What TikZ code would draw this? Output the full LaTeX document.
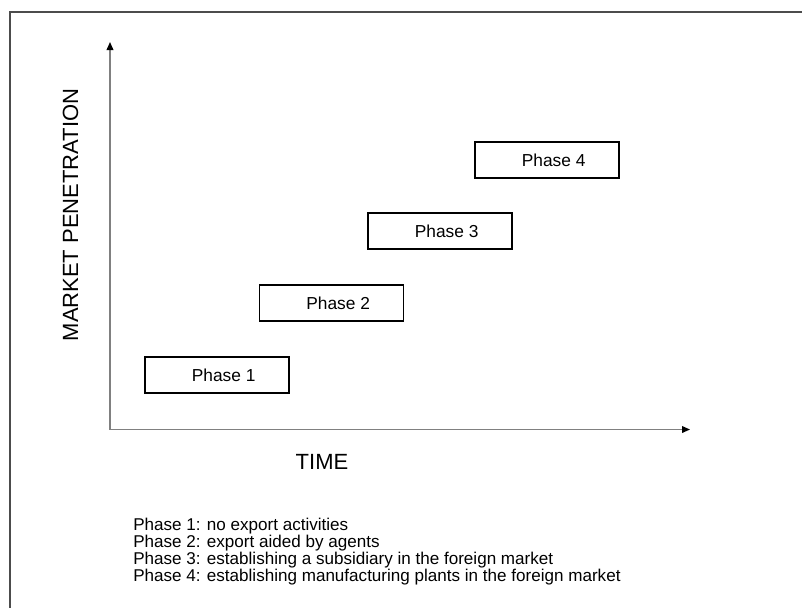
\documentclass[tikz,border=0pt]{standalone}
\usepackage{fontspec}
\setmainfont{Liberation Sans}
\usetikzlibrary{arrows.meta}
\begin{document}
\begin{tikzpicture}[x=0.75pt,y=-0.75pt,
  phasebox/.style={draw=black,line width=1.2pt,minimum width=108pt,minimum height=27pt,inner sep=0pt,font=\fontsize{13}{15}\selectfont},
  axisline/.style={draw={rgb,255:red,128;green,128;blue,128},line width=1.1pt,-{Triangle[black,length=6pt,width=5pt]}},
  legendtext/.style={anchor=base west,inner sep=0pt,font=\fontsize{12.8}{15}\selectfont},
  axlabel/.style={font=\fontsize{16.5}{19}\selectfont,inner sep=0pt}]
\useasboundingbox (0,0) rectangle (802,608);
\fill[white] (0,0) rectangle (802,608);
\coordinate (fr1) at (802,12);
\coordinate (fr0) at (10,12);
\coordinate (fr2) at (10,608);
\draw[line width=1pt,color=black!70] (fr1) -- (fr0) -- (fr2);
\coordinate (O) at (110,429.5);
\coordinate (ytip) at (110,42);
\coordinate (xtip) at (690,429.5);
\draw[axisline] (O) -- (ytip);
\draw[axisline] (O) -- (xtip);
\node[axlabel,rotate=90] (ylab) at (70.5,215) {MARKET PENETRATION};
\node[axlabel] (xlab) at (322,461.5) {TIME};
\node[phasebox] (p1) at (217,375) {\hspace*{10pt}Phase 1};
\node[phasebox] (p2) at (331.5,303) {\hspace*{10pt}Phase 2};
\node[phasebox] (p3) at (440,231) {\hspace*{10pt}Phase 3};
\node[phasebox] (p4) at (547,160) {\hspace*{10pt}Phase 4};
\node[legendtext] (l1) at (133,530) {Phase 1: no export activities};
\node[legendtext] (l2) at (133,547) {Phase 2: export aided by agents};
\node[legendtext] (l3) at (133,564) {Phase 3: establishing a subsidiary in the foreign market};
\node[legendtext] (l4) at (133,581) {Phase 4: establishing manufacturing plants in the foreign market};
\end{tikzpicture}
\end{document}
